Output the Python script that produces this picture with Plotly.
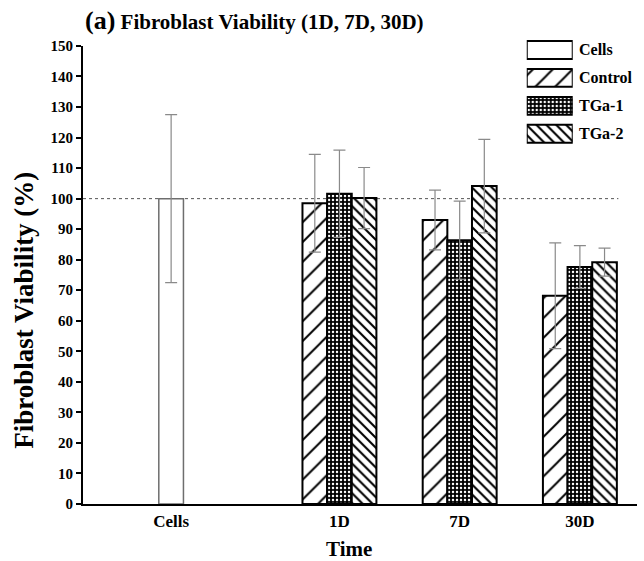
import plotly.graph_objects as go

# ---- data ----
groups = ["Cells", "1D", "7D", "30D"]
group_pos = [1.0, 2.4, 3.4, 4.4]          # x position of each group centre

cells_value = [100.0]
cells_err = [27.5]

control_values = [98.5, 93.0, 68.2]
control_err = [16.0, 9.8, 17.3]
tga1_values = [101.6, 86.4, 77.6]
tga1_err = [14.3, 12.8, 7.0]
tga2_values = [100.2, 104.1, 79.2]
tga2_err = [10.0, 15.3, 4.6]

series_names = ["Cells", "Control", "TGa-1", "TGa-2"]
reference_level = 100

# ---- styling ----
FONT = "Liberation Serif"
BAR_W = 0.205
ERR = dict(type="data", color="#8a8a8a", thickness=1.2, width=6)

pat_control = dict(shape="/", size=14, solidity=0.14, fgcolor="black", bgcolor="white", fgopacity=1)
pat_tga1 = dict(shape=".", size=4, solidity=0.3, fgcolor="white", bgcolor="black", fgopacity=1)
pat_tga2 = dict(shape="\\", size=7, solidity=0.3, fgcolor="black", bgcolor="white", fgopacity=1)

fig = go.Figure()

# cells-only group
fig.add_trace(go.Bar(
    x=[group_pos[0]], y=cells_value, width=BAR_W, opacity=1,
    marker=dict(color="white", line=dict(color="#6e6e6e", width=1.5)),
    error_y=dict(array=cells_err, **ERR), showlegend=False,
))

# treated groups: three bars side by side around each time-point centre
time_pos = group_pos[1:]
for k, (vals, errs, pat) in enumerate([
    (control_values, control_err, pat_control),
    (tga1_values, tga1_err, pat_tga1),
    (tga2_values, tga2_err, pat_tga2),
]):
    xs = [c + (k - 1) * BAR_W for c in time_pos]
    fig.add_trace(go.Bar(
        x=xs, y=vals, width=BAR_W, opacity=1,
        marker=dict(color="black", opacity=1, pattern=pat,
                    line=dict(color="black", width=2)),
        error_y=dict(array=errs, **ERR), showlegend=False,
    ))

# legend drawn on a small inset axis so the swatches can be large
legend_patterns = [None, pat_control, pat_tga1, pat_tga2]
for i, (name, pat) in enumerate(zip(series_names, legend_patterns)):
    m = dict(color="white", opacity=1, line=dict(color="black", width=2))
    if pat is not None:
        m["pattern"] = pat
        m["color"] = "black"
    fig.add_trace(go.Bar(
        x=[1], y=[i], base=0, orientation="h", width=0.64, opacity=1,
        marker=m, xaxis="x2", yaxis="y2", showlegend=False, hoverinfo="skip",
    ))
    fig.add_annotation(
        x=1, y=i, xref="x2", yref="y2", text=f"<b>{name}</b>", showarrow=False,
        xanchor="left", yanchor="middle", xshift=4,
        font=dict(family=FONT, size=16, color="black"),
    )

x_range = [0.267, 4.875]

# dashed 100 % reference line
fig.add_shape(type="line", xref="x", yref="y", x0=x_range[0], x1=4.72,
              y0=reference_level, y1=reference_level, layer="below",
              line=dict(color="#555555", width=1, dash="3px,3px"))

# title
fig.add_annotation(
    x=0.0, y=0.998, xref="paper", yref="paper", xanchor="left", yanchor="middle",
    showarrow=False,
    text="<b><span style='font-size:26px'>(a)</span> Fibroblast Viability (1D, 7D, 30D)</b>",
    font=dict(family=FONT, size=21, color="black"),
)

# axis titles
fig.add_annotation(
    x=0.48, y=-0.094, xref="paper", yref="paper", xanchor="center", yanchor="middle",
    showarrow=False, text="<b>Time</b>",
    font=dict(family=FONT, size=21, color="black"),
)
fig.add_annotation(
    x=-0.106, y=0.40, xref="paper", yref="paper", xanchor="center", yanchor="middle",
    showarrow=False, text="<b>Fibroblast Viability (%)</b>", textangle=-90,
    font=dict(family=FONT, size=27, color="black"),
)

fig.update_layout(
    width=644, height=561,
    margin=dict(l=83, r=7, t=20, b=57),
    paper_bgcolor="white", plot_bgcolor="white",
    barmode="overlay",
    font=dict(family=FONT, color="black"),
    xaxis=dict(
        range=x_range, tickvals=group_pos,
        ticktext=[f"<b>{g}</b>" for g in groups],
        tickfont=dict(family=FONT, size=17, color="black"),
        ticklabelstandoff=1,
        showline=True, linecolor="black", linewidth=2, ticks="",
        showgrid=False, zeroline=False, automargin=False,
    ),
    yaxis=dict(
        domain=[0, 0.9464], range=[0, 150], dtick=10,
        tickfont=dict(family=FONT, size=15, color="black"),
        tickprefix="<b>", ticksuffix="</b>",
        showline=True, linecolor="black", linewidth=2,
        ticks="outside", ticklen=5, tickwidth=2, tickcolor="black",
        showgrid=False, zeroline=False, automargin=False,
    ),
    xaxis2=dict(domain=[0.801, 0.884], range=[0, 1], visible=False, fixedrange=True),
    yaxis2=dict(domain=[0.736, 0.967], range=[3.5, -0.5], visible=False, fixedrange=True,
                anchor="x2"),
)

fig.write_html("out.html")
